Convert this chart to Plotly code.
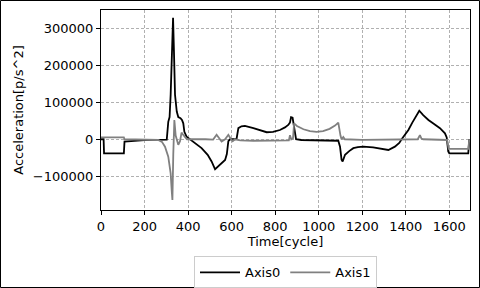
import plotly.graph_objects as go

# ---- data ----
t_axis0 = [0, 12, 14, 105, 108, 150, 200, 250, 302, 309, 315, 320, 325, 331, 335, 340, 348, 355, 365,
           372, 378, 383, 393, 424, 462, 490, 508, 524, 547, 570, 578, 585, 593, 605, 615, 623, 631,
           645, 661, 700, 730, 761, 790, 822, 845, 860, 868, 873, 880, 887, 896, 920, 1000, 1060, 1090, 1098,
           1105, 1110, 1121, 1140, 1159, 1180, 1205, 1250, 1289, 1320, 1350, 1370, 1381, 1395, 1412, 1430,
           1450, 1462, 1480, 1504, 1530, 1557, 1580, 1588, 1595, 1600, 1687, 1692]
v_axis0 = [0, 0, -38000, -38000, -6000, -4000, -2500, -1500, -1000, 47000, 60000, 120000, 230000, 328000,
           240000, 120000, 75000, 60000, 57000, 52000, 43000, 20000, 7000, -6000, -24000, -42000, -60000, -81000,
           -69000, -56000, -40000, -5000, 0, -1000, 0, 2000, 30000, 35000, 36000, 30000, 24000, 19000, 20000,
           25000, 32000, 38600, 45000, 59500, 58000, 30000, 0, -2000, -3000, -3500, -4000, -20000, -55000, -60000,
           -42000, -32000, -24000, -21000, -20000, -22000, -27000, -29000, -20000, -10000, 0, 10000, 25000, 45000,
           65000, 77000, 65000, 52000, 41000, 30000, 16000, 5000, -33000, -38000, -38000, 0]

t_axis1 = [0, 105, 108, 200, 263, 280, 294, 309, 320, 325, 328, 332, 337, 343, 355, 363, 370, 378, 388, 395,
           480, 515, 531, 540, 554, 570, 585, 595, 605, 615, 640, 700, 800, 863, 868, 874, 882, 887, 900,
           930, 960, 990, 1020, 1050, 1075, 1090, 1100, 1105, 1113, 1120, 1200, 1296, 1300, 1400, 1455, 1465,
           1472, 1480, 1500, 1560, 1590, 1597, 1600, 1687, 1692]
v_axis1 = [5000, 5000, 0, -500, -2000, -7000, -20000, -47000, -92000, -140000, -164000, -40000, 52000, 10000,
           -15000, -5000, 18000, 11600, 3000, 0, 0, -1000, 12000, 4000, -6000, 0, 12000, 2000, -5000, 0, -3000,
           -4000, -4000, -3000, 11000, 0, 3000, 43000, 36000, 27000, 22000, 20000, 22000, 28000, 37000, 45000,
           10000, 0, 6000, 0, -1500, -1000, -2500, -1500, 0, 11000, 2000, 0, -500, -1000, -2000, -26000, -26000,
           -26000, 0]

x_ticks = [0, 200, 400, 600, 800, 1000, 1200, 1400, 1600]
y_ticks = [-100000, 0, 100000, 200000, 300000]
y_ticktext = ["\u2212100000", "0", "100000", "200000", "300000"]

FONT = "DejaVu Sans"

fig = go.Figure()
fig.add_trace(go.Scatter(x=t_axis0, y=v_axis0, mode="lines", name="Axis0",
                         line=dict(color="#000000", width=1.8)))
fig.add_trace(go.Scatter(x=t_axis1, y=v_axis1, mode="lines", name="Axis1",
                         line=dict(color="#808080", width=1.8)))

L, R, T, B = 101, 10, 10, 78
W, H = 480, 288
pw, ph = W - L - R, H - T - B

fig.update_layout(
    width=W, height=H,
    margin=dict(l=L, r=R, t=T, b=B, autoexpand=False),
    paper_bgcolor="white", plot_bgcolor="white",
    font=dict(family=FONT, size=13, color="black"),
    showlegend=True,
    legend=dict(orientation="h", x=0.5, xanchor="center", y=-0.232, yanchor="top",
                bordercolor="#cccccc", borderwidth=1, font=dict(size=13),
                itemwidth=40, tracegroupgap=0),
    xaxis=dict(range=[0, 1695], tickvals=x_ticks, ticks="outside", ticklen=4, tickcolor="black",
               showline=True, linecolor="black", linewidth=1, mirror=True,
               showgrid=True, gridcolor="#b0b0b0", griddash="3px,2px", gridwidth=1,
               zeroline=False, title=dict(text="Time[cycle]", standoff=4, font=dict(size=13)),
               tickfont=dict(size=13), automargin=False),
    yaxis=dict(range=[-191000, 349000], tickvals=y_ticks, ticktext=y_ticktext, ticks="outside",
               ticklen=4, tickcolor="black",
               showline=True, linecolor="black", linewidth=1, mirror=True,
               showgrid=True, gridcolor="#b0b0b0", griddash="3px,2px", gridwidth=1,
               zeroline=False, title=dict(text="Acceleration[p/s^2]", standoff=6, font=dict(size=13)),
               tickfont=dict(size=13), automargin=False),
)

# figure border
fig.add_shape(type="rect", xref="paper", yref="paper",
              x0=(0.5 - L) / pw, x1=(W - 0.5 - L) / pw,
              y0=-(B - 0.5) / ph, y1=1 + (T - 0.5) / ph,
              line=dict(color="black", width=1), fillcolor="rgba(0,0,0,0)", layer="above")

fig.write_html("out.html")
